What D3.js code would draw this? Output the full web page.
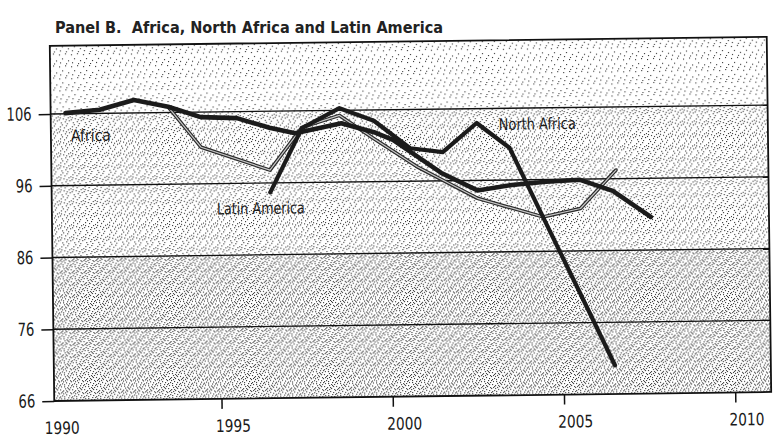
<!DOCTYPE html>
<html><head><meta charset="utf-8">
<script src="https://cdn.jsdelivr.net/npm/d3@7"></script>
<style>
html,body{margin:0;padding:0;background:#fff;}
svg{display:block;}
</style></head><body>
<svg id="chart" width="773" height="437"></svg>
<script>
// ---------- data ----------
const xTickValues = [1990, 1995, 2000, 2005, 2010];
const yTickValues = [66, 76, 86, 96, 106];
const seriesNames = ["Africa", "North Africa", "Latin America"];

const africaYears  = [1990.55,1991.55,1992.55,1993.55,1994.5,1995.55,1996.5,1997.25,1998.6,1999.55,2000.1,2001.5,2002.55,2003.55,2004.55,2005.55,2006.5,2007.6];
const africaValues = [106.1,106.5,107.8,106.8,105.3,105.1,103.7,102.9,104.2,102.9,101.8,97.1,94.6,95.3,95.7,95.9,94.3,90.6];

const northAfricaYears  = [1996.5,1997.45,1998.55,1999.55,2000.6,2001.55,2002.55,2003.5,2004.5,2005.5,2006.5];
const northAfricaValues = [94.7,103.6,106.3,104.5,100.6,100.0,104.0,100.5,90.3,80.2,70.0];

const latinAmericaYears  = [1993.55,1994.5,1996.5,1997.45,1998.55,1999.55,2000.8,2002.55,2004.45,2005.55,2006.6];
const latinAmericaValues = [106.8,101.1,97.8,103.7,105.3,102.0,98.0,93.5,90.8,91.9,97.2];

// ---------- layout ----------
const svg = d3.select("#chart");
const narrow = "'Liberation Sans Narrow','Arial Narrow','DejaVu Sans Condensed',sans-serif";

const x = d3.scaleLinear().domain([1990, 2010]).range([48, 733]);
const y = d3.scaleLinear().domain([66, 106]).range([396.5, 109.5]);
const plotLeft = 52, plotRight = 769, plotTop = y(115.5), plotBottom = y(66);

// title
svg.append("text")
  .attr("x", 55).attr("y", 33)
  .attr("font-family", narrow).attr("font-size", 16.5).attr("font-weight", "bold")
  .attr("fill", "#222")
  .style("white-space", "pre")
  .attr("textLength", 388).attr("lengthAdjust", "spacingAndGlyphs")
  .text("Panel B.  Africa, North Africa and Latin America");

const g = svg.append("g").attr("transform", "rotate(-0.72, 410, 220)");

// stipple patterns (fixed, hand-placed dot positions)
const defs = svg.append("defs");
const dotsLight = [[1,2],[7,1],[4,6],[10,8],[2,10],[8,11]];
const dotsMedium = dotsLight.concat([[5,3],[11,4],[0,7],[6,9],[9,5],[3,0],[1,5],[7,7]]);
const dotsDense = dotsMedium.concat([[4,2],[10,1],[2,8],[8,4],[5,11],[11,10],[0,3],[6,0],[3,4],[9,9]]);
function stipple(id, dots) {
  const p = defs.append("pattern").attr("id", id)
    .attr("width", 12).attr("height", 12).attr("patternUnits", "userSpaceOnUse");
  p.append("rect").attr("width", 12).attr("height", 12).attr("fill", "#fff");
  dots.forEach(([a, b]) => p.append("rect").attr("x", a).attr("y", b)
    .attr("width", 1.1).attr("height", 1.1).attr("fill", "#333"));
}
stipple("light", dotsLight);
stipple("medium", dotsMedium);
stipple("dense", dotsDense);

const bands = [
  {from: 106, to: 115.5, fill: "url(#light)"},
  {from: 86, to: 106, fill: "url(#medium)"},
  {from: 66, to: 86, fill: "url(#dense)"}
];
g.selectAll("rect.band").data(bands).join("rect")
  .attr("class", "band")
  .attr("x", plotLeft).attr("width", plotRight - plotLeft)
  .attr("y", d => y(d.to)).attr("height", d => y(d.from) - y(d.to))
  .attr("fill", d => d.fill);

// gridlines
g.selectAll("line.grid").data(yTickValues.filter(v => v > 66)).join("line")
  .attr("class", "grid")
  .attr("x1", plotLeft).attr("x2", plotRight)
  .attr("y1", d => y(d)).attr("y2", d => y(d))
  .attr("stroke", "#111").attr("stroke-width", 1.3);

// series lines
const line = d3.line().x(d => x(d[0])).y(d => y(d[1]));
const africa = d3.zip(africaYears, africaValues);
const northAfrica = d3.zip(northAfricaYears, northAfricaValues);
const latinAmerica = d3.zip(latinAmericaYears, latinAmericaValues);

// Latin America: outlined grey line
g.append("path").attr("d", line(latinAmerica)).attr("fill", "none")
  .attr("stroke", "#2a2a2a").attr("stroke-width", 3.6)
  .attr("stroke-linejoin", "round").attr("stroke-linecap", "round");
g.append("path").attr("d", line(latinAmerica)).attr("fill", "none")
  .attr("stroke", "#c8c8c8").attr("stroke-width", 1.2)
  .attr("stroke-linejoin", "round").attr("stroke-linecap", "round");

g.append("path").attr("d", line(africa)).attr("fill", "none")
  .attr("stroke", "#1b1b1b").attr("stroke-width", 4.6)
  .attr("stroke-linejoin", "round").attr("stroke-linecap", "round");

g.append("path").attr("d", line(northAfrica)).attr("fill", "none")
  .attr("stroke", "#1b1b1b").attr("stroke-width", 4.2)
  .attr("stroke-linejoin", "round").attr("stroke-linecap", "round");

// frame
g.append("rect")
  .attr("x", plotLeft).attr("y", plotTop)
  .attr("width", plotRight - plotLeft).attr("height", plotBottom - plotTop)
  .attr("fill", "none").attr("stroke", "#111").attr("stroke-width", 1.8);

// axes
const yAxis = d3.axisLeft(y).tickValues(yTickValues).tickSize(12).tickPadding(7).tickFormat(d3.format("d"));
const yAxisG = g.append("g").attr("transform", `translate(${plotLeft},0)`).call(yAxis);
yAxisG.select(".domain").remove();
yAxisG.selectAll("line").attr("stroke", "#111").attr("stroke-width", 1.5);
yAxisG.selectAll("text").attr("font-family", narrow).attr("font-size", 18).attr("fill", "#1a1a1a")
  .attr("textLength", d => String(d).length * 8.4).attr("lengthAdjust", "spacingAndGlyphs");

const xAxis = d3.axisBottom(x).tickValues(xTickValues).tickSize(10).tickFormat(d3.format("d"));
const xAxisG = g.append("g").attr("transform", `translate(0,${plotBottom})`).call(xAxis);
xAxisG.select(".domain").remove();
xAxisG.selectAll("line").attr("stroke", "#111").attr("stroke-width", 1.5)
  .attr("opacity", d => d === 1990 ? 0 : 1);
xAxisG.selectAll("text").attr("font-family", narrow).attr("font-size", 17).attr("fill", "#1a1a1a")
  .attr("y", 33).attr("dy", 0).attr("dx", 11)
  .attr("textLength", 35).attr("lengthAdjust", "spacingAndGlyphs");

// series labels
const labelPos = [
  {name: seriesNames[0], x: 72, y: 137, w: 40},
  {name: seriesNames[1], x: 500, y: 131, w: 77},
  {name: seriesNames[2], x: 217, y: 212, w: 88}
];
g.selectAll("text.lbl").data(labelPos).join("text")
  .attr("class", "lbl")
  .attr("x", d => d.x).attr("y", d => d.y)
  .attr("font-family", narrow).attr("font-size", 16).attr("fill", "#1a1a1a")
  .attr("textLength", d => d.w).attr("lengthAdjust", "spacingAndGlyphs")
  .text(d => d.name);
</script>
</body></html>
